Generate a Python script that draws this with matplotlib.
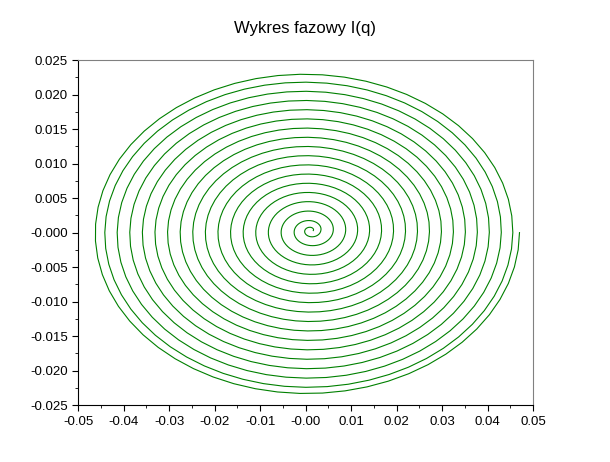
import numpy as np
import matplotlib
matplotlib.use("Agg")
import matplotlib.pyplot as plt
from matplotlib.ticker import MultipleLocator

plt.rcParams['font.family'] = ['Liberation Sans', 'DejaVu Sans']

# per-turn amplitudes of charge q (x)
turn_amp_q = [0.0005, 0.0022, 0.0050, 0.0078, 0.0105, 0.0132, 0.0159, 0.0186,
              0.0213, 0.0240, 0.0267, 0.0294, 0.0321, 0.0348, 0.0375, 0.0402,
              0.0429, 0.0455, 0.0470]
ratio_I_to_q = 0.5  # current amplitude relative to charge amplitude
center_q, center_I = 0.0012, 0.0003
pts_per_turn = 60

q_list, I_list = [], []
n = len(turn_amp_q) - 1
for k in range(n):
    a0, a1 = turn_amp_q[k], turn_amp_q[k + 1]
    t = np.linspace(0, 2 * np.pi, pts_per_turn, endpoint=(k == n - 1))
    a = a0 + (a1 - a0) * t / (2 * np.pi)
    q_list.append(center_q * (1 - a / 0.047) + a * np.cos(t))
    I_list.append(center_I * (1 - a / 0.047) + ratio_I_to_q * a * np.sin(t))
q = np.concatenate(q_list)
I = np.concatenate(I_list)

fig = plt.figure(figsize=(6.1, 4.62), dpi=100)
ax = fig.add_axes([0.128, 0.123, 0.746, 0.747])
ax.plot(q, I, color='#008000', lw=0.8)
ax.set_xlim(-0.05, 0.05)
ax.set_ylim(-0.025, 0.025)
ax.xaxis.set_major_locator(MultipleLocator(0.01))
ax.yaxis.set_major_locator(MultipleLocator(0.005))
ax.xaxis.set_minor_locator(MultipleLocator(0.005))
ax.yaxis.set_minor_locator(MultipleLocator(0.0025))
ax.set_xticklabels([f"{v:.2f}" for v in ax.get_xticks()])
ax.set_yticklabels([f"{v:.3f}" for v in ax.get_yticks()])
ax.tick_params(direction='out', labelsize=9.5, length=4)
ax.tick_params(which='minor', direction='out', length=2)
ax.tick_params(top=False, right=False)
for s in ['top', 'right']:
    ax.spines[s].set_color('#808080')
fig.suptitle('Wykres fazowy I(q)', y=0.955, fontsize=12)
fig.savefig('out.png', dpi=100)
